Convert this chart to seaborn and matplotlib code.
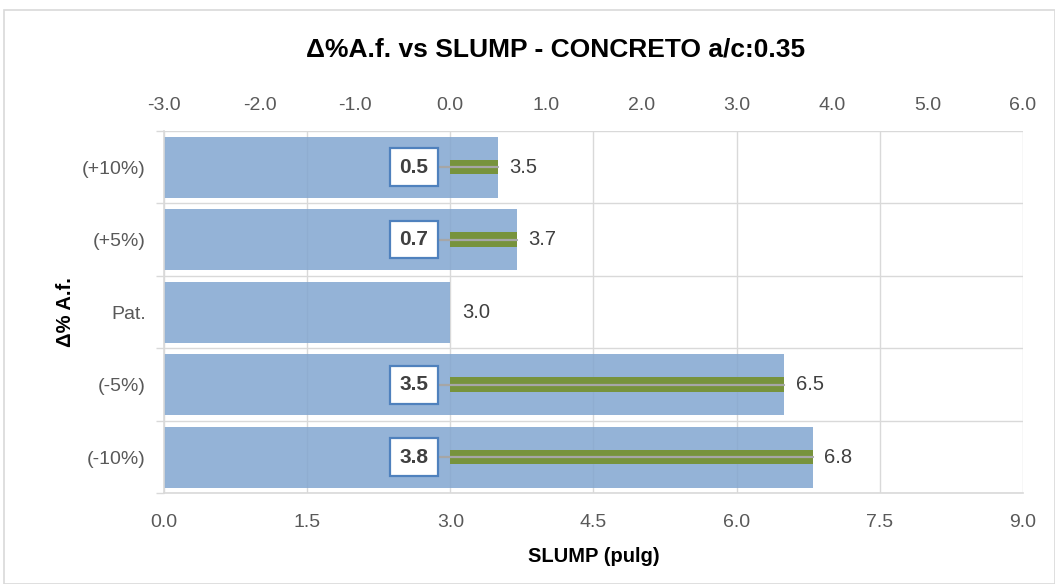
import matplotlib
matplotlib.use("Agg")
import matplotlib.pyplot as plt
import seaborn as sns
import pandas as pd
from matplotlib.patches import Rectangle

# Data
categories = ["(+10%)", "(+5%)", "Pat.", "(-5%)", "(-10%)"]
slump = [3.5, 3.7, 3.0, 6.5, 6.8]          # SLUMP (pulg), bottom axis
delta = [0.5, 0.7, 0.0, 3.5, 3.8]          # difference vs. Pat., top axis
bottom_ticks = [0.0, 1.5, 3.0, 4.5, 6.0, 7.5, 9.0]
top_ticks = [-3.0, -2.0, -1.0, 0.0, 1.0, 2.0, 3.0, 4.0, 5.0, 6.0]

df = pd.DataFrame({"cat": categories, "slump": slump, "delta": delta})

sns.set_theme(style="white")
plt.rcParams["font.family"] = ["Liberation Sans", "DejaVu Sans"]

BLUE = "#82A6D0"
GREEN = "#77933C"
GRID = "#D9D9D9"
TXT = "#595959"

fig = plt.figure(figsize=(10.55, 5.84), dpi=100)
ax = fig.add_axes([0.1555, 0.155, 0.814, 0.621])

# outer chart border
fig.patches.append(Rectangle((4 / 1055, 0), 1 - 4 / 1055, 1 - 10 / 584,
                             transform=fig.transFigure, fill=False,
                             edgecolor=GRID, linewidth=1.2))

sns.barplot(data=df, x="slump", y="cat", orient="h", color=BLUE, alpha=0.85,
            width=0.84, saturation=1, linewidth=0, ax=ax, zorder=2)
ax.set_xlim(0, 9)
ax.set_xticks(bottom_ticks)
ax.set_xticklabels([f"{t:.1f}" for t in bottom_ticks])
ax.set_ylim(len(categories) - 0.5, -0.5)

# gridlines: vertical on slump scale, horizontal between categories
ax.set_yticks([i + 0.5 for i in range(-1, len(categories))], minor=True)
ax.xaxis.grid(True, color=GRID, linewidth=1.0, zorder=0)
ax.yaxis.grid(True, which="minor", color=GRID, linewidth=1.0, zorder=0)
ax.set_axisbelow(True)
ax.tick_params(axis="y", which="minor", length=6, color=GRID, width=1.0, left=True)
ax.tick_params(axis="y", which="major", length=0, labelsize=14, labelcolor=TXT, pad=13)
ax.tick_params(axis="x", which="major", length=0, labelsize=14, labelcolor=TXT, pad=15)
for s in ["top", "right"]:
    ax.spines[s].set_visible(False)
ax.spines["left"].set_color(GRID)
ax.spines["bottom"].set_color(GRID)
ax.spines["left"].set_linewidth(1.2)
ax.spines["bottom"].set_linewidth(1.2)

ax.set_xlabel("SLUMP (pulg)", fontsize=14.5, fontweight="bold", color="black", labelpad=11)
ax.set_ylabel("Δ% A.f.", fontsize=14.5, fontweight="bold", color="black", labelpad=5)

for i, v in enumerate(slump):
    ax.text(v + 0.12, i, f"{v:.1f}", va="center", ha="left", fontsize=14.5,
            color="#404040", zorder=6)

# secondary (top) axis with the difference bars
ax2 = ax.twiny()
sns.barplot(data=df, x="delta", y="cat", orient="h", color=GREEN, width=0.2,
            saturation=1, linewidth=0, ax=ax2, zorder=3)
ax2.set_xlim(-3, 6)
ax2.set_ylim(len(categories) - 0.5, -0.5)
ax2.set_xticks(top_ticks)
ax2.set_xticklabels([f"{t:.1f}" for t in top_ticks])
ax2.tick_params(axis="x", length=0, labelsize=14, labelcolor=TXT, pad=12)
ax2.set_xlabel("")
ax2.set_ylabel("")
for s in ax2.spines.values():
    s.set_visible(False)
ax2.grid(False)

for i, d in enumerate(delta):
    if d == 0:
        continue
    ax2.plot([-0.3, d], [i, i], color="#A6A6A6", linewidth=1.6, zorder=4)
    ax2.text(-0.38, i, f"{d:.1f}", ha="center", va="center",
             fontsize=15, fontweight="bold", color="#404040", zorder=6,
             bbox=dict(boxstyle="square,pad=0.45", facecolor="white",
                       edgecolor="#4F81BD", linewidth=1.6))

fig.text(0.527, 0.915, "Δ%A.f. vs SLUMP - CONCRETO a/c:0.35", ha="center",
         va="center", fontsize=19, fontweight="bold", color="black")

fig.savefig("out.png", dpi=100)
